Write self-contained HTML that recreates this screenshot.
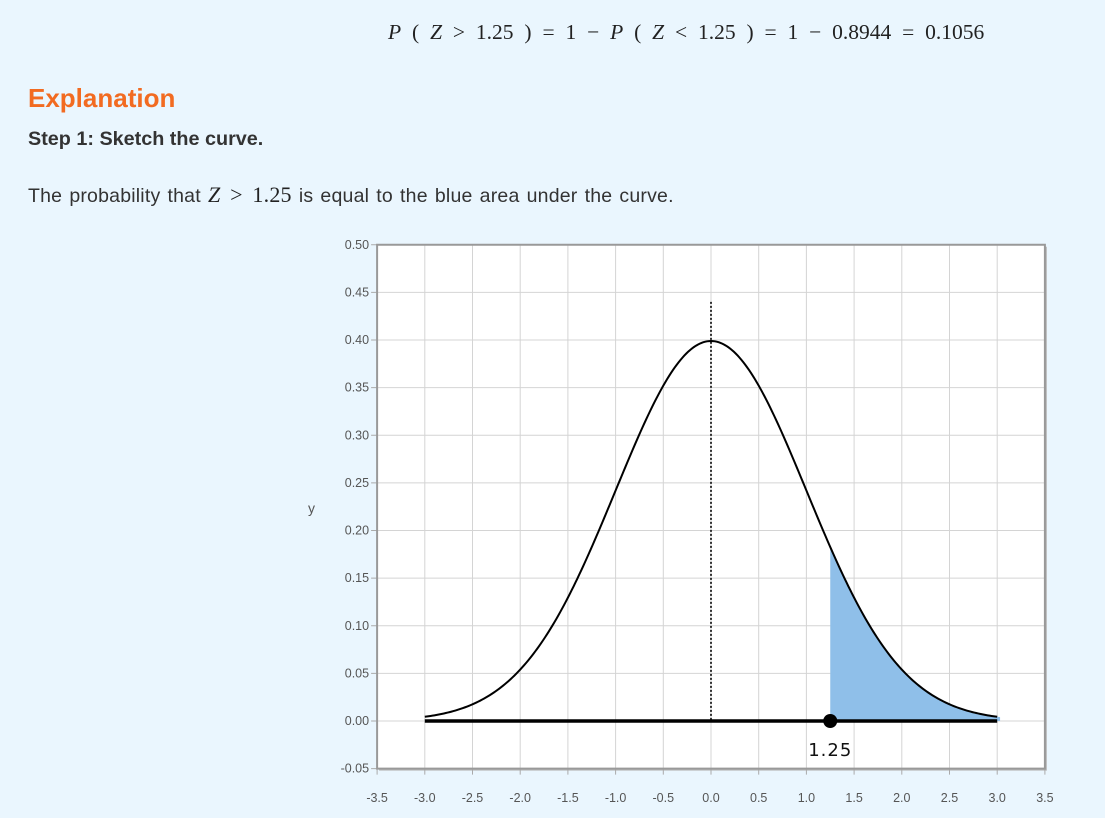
<!DOCTYPE html>
<html><head><meta charset="utf-8"><style>
body{margin:0;width:1105px;height:818px;background:#eaf6fe;font-family:"Liberation Sans",sans-serif;overflow:hidden;position:relative}
.m{font-family:"Liberation Serif",serif;color:#222}
</style></head><body>
<div class="m" style="position:absolute;left:388px;top:20px;font-size:21.5px;word-spacing:5.5px;white-space:nowrap"><i>P</i> ( <i>Z</i> &gt; 1.25 ) = 1 − <i>P</i> ( <i>Z</i> &lt; 1.25 ) = 1 − 0.8944 = 0.1056</div>
<div style="position:absolute;left:28px;top:83px;font-size:26px;font-weight:bold;color:#f26b21">Explanation</div>
<div style="position:absolute;left:28px;top:128px;font-size:19.8px;font-weight:bold;color:#333">Step 1: Sketch the curve.</div>
<div style="position:absolute;left:28px;top:182px;font-size:19.5px;color:#333;white-space:nowrap;word-spacing:1.5px;letter-spacing:0.2px">The probability that <span class="m" style="font-size:22px;word-spacing:4px"><i>Z</i> &gt; 1.25</span> is equal to the blue area under the curve.</div>
<svg id="c" width="1105" height="818" style="position:absolute;left:0;top:0"></svg>
<script>
const xTicks=[-3.5,-3.0,-2.5,-2.0,-1.5,-1.0,-0.5,0.0,0.5,1.0,1.5,2.0,2.5,3.0,3.5];
const yTicks=[-0.05,0.00,0.05,0.10,0.15,0.20,0.25,0.30,0.35,0.40,0.45,0.50];
const zValue=[1.25];
const curveRange=[-3,3];
const mean=[0];
const X=v=>711+v*95.4, Y=v=>721-v*952.5;
const s=document.getElementById('c'),NS='http://www.w3.org/2000/svg';
function el(t,a,txt){const e=document.createElementNS(NS,t);for(const k in a)e.setAttribute(k,a[k]);if(txt!==undefined)e.textContent=txt;s.appendChild(e);return e;}
const pdf=x=>Math.exp(-x*x/2)/Math.sqrt(2*Math.PI);
let e=el('rect',{x:X(-3.5)+2,y:Y(0.5)+2,width:X(3.5)-X(-3.5),height:Y(-0.05)-Y(0.5),fill:'#bbb'});

e=el('rect',{x:X(-3.5),y:Y(0.5),width:X(3.5)-X(-3.5),height:Y(-0.05)-Y(0.5),fill:'#fff'});

xTicks.forEach(v=>{
 e=el('line',{x1:X(v),x2:X(v),y1:Y(0.5),y2:Y(-0.05),stroke:'#d4d4d4'});
 
 e=el('line',{x1:X(v),x2:X(v),y1:Y(-0.05),y2:Y(-0.05)+6,stroke:'#aaa'});
 
 e=el('text',{x:X(v),y:802,'text-anchor':'middle','font-size':12.5,fill:'#555'},v.toFixed(1));
 
});
yTicks.forEach(v=>{
 e=el('line',{x1:X(-3.5),x2:X(3.5),y1:Y(v),y2:Y(v),stroke:'#d4d4d4'});
 
 e=el('line',{x1:X(-3.5)-6,x2:X(-3.5),y1:Y(v),y2:Y(v),stroke:'#aaa'});
 
 e=el('text',{x:X(-3.5)-8,y:Y(v)+4,'text-anchor':'end','font-size':12.5,fill:'#555'},v.toFixed(2));
 
});
e=el('rect',{x:X(-3.5),y:Y(0.5),width:X(3.5)-X(-3.5),height:Y(-0.05)-Y(0.5),fill:'none',stroke:'#999','stroke-width':2});

e=el('text',{x:308,y:513,'font-size':14,fill:'#555'},'y');

let z=zValue[0],d='M'+X(z)+','+Y(0);
for(let x=z;x<=3.03;x+=0.01)d+=' L'+X(x)+','+Y(pdf(x));
d+=' L'+X(3.03)+','+Y(0)+'Z';
e=el('path',{d:d,fill:'#8fbfe9'});

e=el('line',{x1:X(mean[0]),x2:X(mean[0]),y1:Y(0.44),y2:Y(0),stroke:'#333','stroke-width':2,'stroke-dasharray':'2,2'});

e=el('line',{x1:X(curveRange[0]),x2:X(curveRange[1]),y1:Y(0),y2:Y(0),stroke:'#000','stroke-width':3.5});

d='';for(let x=curveRange[0];x<=curveRange[1]+1e-9;x+=0.02)d+=(d?' L':'M')+X(x)+','+Y(pdf(x));
e=el('path',{d:d,fill:'none',stroke:'#000','stroke-width':2});

e=el('circle',{cx:X(z),cy:Y(0),r:7,fill:'#000'});

e=el('text',{x:X(z),y:756,'text-anchor':'middle','font-size':18,'font-family':'DejaVu Sans',fill:'#111','letter-spacing':1},z.toFixed(2));

</script>
</body></html>
